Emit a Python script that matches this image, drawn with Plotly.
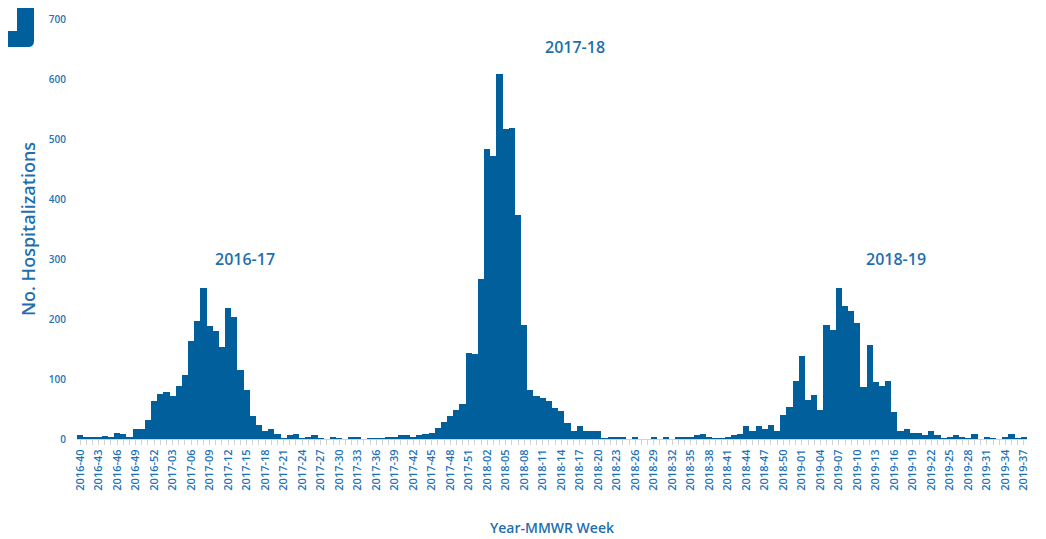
import plotly.graph_objects as go

# ---- data ----
weeks_2016 = [f"2016-{w:02d}" for w in range(40, 53)]
weeks_2017 = [f"2017-{w:02d}" for w in range(1, 53)]
weeks_2018 = [f"2018-{w:02d}" for w in range(1, 53)]
weeks_2019 = [f"2019-{w:02d}" for w in range(1, 38)]
weeks = weeks_2016 + weeks_2017 + weeks_2018 + weeks_2019

vals_2016 = [6, 4, 3, 3, 5, 3, 10, 8, 4, 17, 17, 32, 63]
vals_2017 = [75, 79, 71, 89, 106, 163, 197, 252, 188, 180, 153, 218, 203, 115, 81, 39,
             23, 14, 16, 8, 1, 6, 8, 1, 4, 6, 1, 0, 4, 1, 0, 2, 3, 0, 1, 1, 1, 4, 4, 7,
             7, 4, 7, 8, 10, 18, 28, 39, 48, 59, 143, 142]
vals_2018 = [267, 483, 471, 609, 516, 519, 373, 190, 81, 72, 68, 63, 51, 46, 27, 14,
             22, 14, 14, 14, 1, 4, 4, 2, 0, 2, 0, 0, 3, 0, 2, 0, 4, 2, 2, 6, 8, 4, 1, 1,
             3, 6, 9, 22, 14, 22, 16, 23, 14, 40, 53, 96]
vals_2019 = [138, 65, 74, 49, 190, 181, 251, 221, 214, 193, 86, 156, 95, 88, 97, 45,
             13, 17, 10, 10, 6, 13, 7, 1, 3, 6, 3, 1, 8, 0, 3, 1, 0, 3, 8, 1, 4]
values = vals_2016 + vals_2017 + vals_2018 + vals_2019

tick_text = [w if i % 3 == 0 else "" for i, w in enumerate(weeks)]
y_ticks = [0, 100, 200, 300, 400, 500, 600, 700]

season_labels = ["2016-17", "2017-18", "2018-19"]
season_x = [26.7, 80.2, 132.2]
season_y = [300, 653, 300]

# ---- style ----
BAR = "#015f9b"
TXT = "#1f6fae"
FONT = "Open Sans"

OFF = 8  # page body margin
W, H = 1030, 531
ML, MR, MT, MB = 69, 11, 11, 100
PW, PH = W - ML - MR, H - MT - MB

fig = go.Figure(go.Bar(x=weeks, y=values, marker=dict(color=BAR, line=dict(width=0))))

annotations = []
for lab, xa, ya in zip(season_labels, season_x, season_y):
    annotations.append(dict(x=xa, y=ya, xref="x", yref="y", text=lab, showarrow=False,
                            font=dict(family=FONT, size=16, color=TXT, weight=600)))


def px2paper(x, y):
    # page pixel -> paper coords
    return (x - OFF - ML) / PW, 1 - (y - OFF - MT) / PH


def P(a, b):
    xp, yp = px2paper(a, b)
    return f"{xp:.5f},{yp:.5f}"


path = (f"M {P(0, 31)} L {P(17, 31)} L {P(17, 0)} L {P(34, 0)} L {P(34, 41)} "
        f"Q {P(34, 47)} {P(28, 47)} L {P(0, 47)} Z")

fig.update_layout(
    width=W, height=H,
    margin=dict(l=ML, r=MR, t=MT, b=MB),
    paper_bgcolor="white", plot_bgcolor="white",
    bargap=0,
    showlegend=False,
    font=dict(family=FONT, color=TXT),
    annotations=annotations,
    shapes=[dict(type="path", xref="paper", yref="paper", path=path,
                 fillcolor="#00609e", line=dict(width=0), layer="above")],
    xaxis=dict(
        type="category", automargin=False,
        tickmode="array", tickvals=weeks, ticktext=tick_text,
        tickangle=-90,
        tickfont=dict(family=FONT, size=11, color="#1b72b6", weight=600),
        ticks="outside", ticklen=5, tickcolor="#d3d3d3", tickwidth=1,
        showline=True, linecolor="#d3d3d3", linewidth=1,
        showgrid=False, zeroline=False,
        range=[-0.5, len(weeks) - 0.5],
        title=dict(text="Year-MMWR Week", standoff=33,
                   font=dict(family=FONT, size=14, color=TXT, weight=600)),
    ),
    yaxis=dict(
        range=[0, 700], automargin=False,
        tickvals=y_ticks,
        tickfont=dict(family=FONT, size=10, color="#2673b2", weight=600),
        showgrid=False, zeroline=False, showline=False,
        ticks="", ticklabelstandoff=10,
        title=dict(text="No. Hospitalizations", standoff=8,
                   font=dict(family=FONT, size=18, color=TXT, weight=600)),
    ),
)

fig.write_html("out.html")
